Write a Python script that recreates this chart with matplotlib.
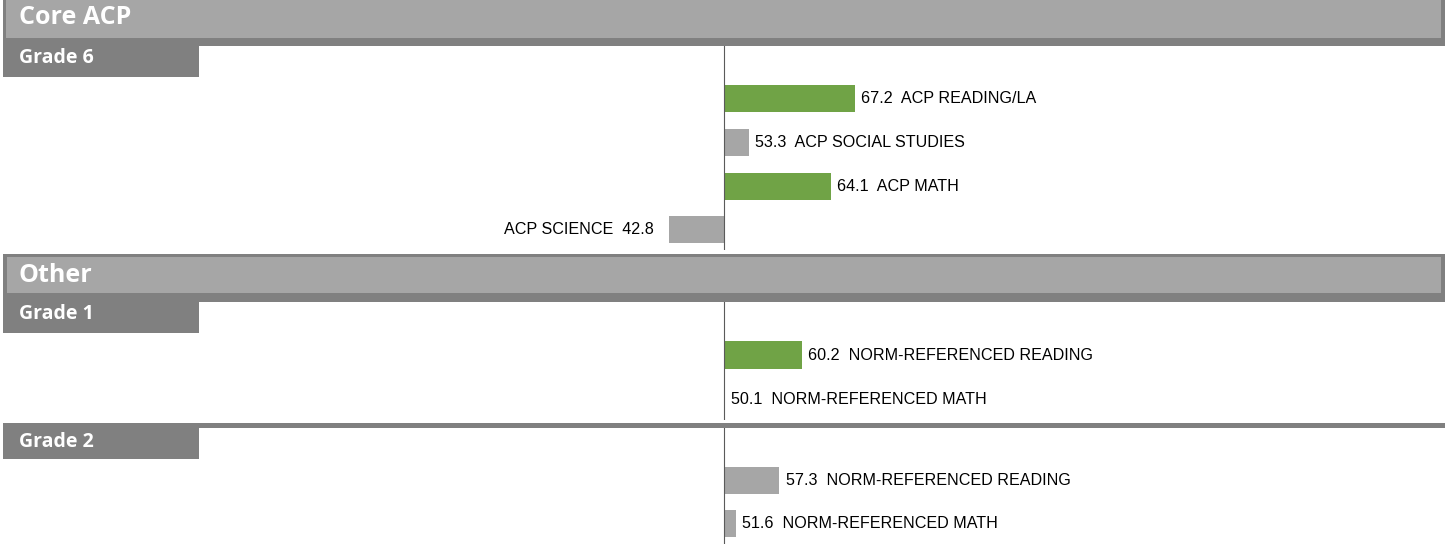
import matplotlib
matplotlib.use("Agg")
import matplotlib.pyplot as plt
from matplotlib.patches import Rectangle

W, H = 1445, 544
BASE = 50.0

sections = ["Core ACP", "Other"]
grade6_names = ["ACP READING/LA", "ACP SOCIAL STUDIES", "ACP MATH", "ACP SCIENCE"]
grade6_vals = [67.2, 53.3, 64.1, 42.8]
grade6_good = [True, False, True, False]

grade1_names = ["NORM-REFERENCED READING", "NORM-REFERENCED MATH"]
grade1_vals = [60.2, 50.1]
grade1_good = [True, False]

grade2_names = ["NORM-REFERENCED READING", "NORM-REFERENCED MATH"]
grade2_vals = [57.3, 51.6]
grade2_good = [False, False]

GREEN = "#70a346"
GRAY_BAR = "#a6a6a6"
LIGHT = "#a6a6a6"
DARK = "#808080"
AXLINE = "#5a5a5a"

fig = plt.figure(figsize=(W / 100, H / 100), dpi=100)


def rect(x0, y0, x1, y1, color, z=1):
    fig.add_artist(Rectangle((x0 / W, 1 - y1 / H), (x1 - x0) / W, (y1 - y0) / H,
                             transform=fig.transFigure, facecolor=color,
                             edgecolor="none", zorder=z))


def ftext(x, y, s, size):
    fig.text(x / W, 1 - y / H, s, color="white", fontsize=size, fontweight="bold",
             family=["Open Sans", "DejaVu Sans"], ha="left", va="center", zorder=30)


PX_PER_UNIT = 7.6
xmin = BASE - 724 / PX_PER_UNIT
xmax = BASE + (W - 724) / PX_PER_UNIT


def panel(top, bottom, names, vals, good):
    ax = fig.add_axes([0, 1 - bottom / H, 1, (bottom - top) / H])
    ax.set_xlim(xmin, xmax)
    n = len(vals)
    ax.set_ylim(n - 1 + 0.46, -1.2)
    ax.axis("off")
    ys = list(range(n))
    widths = [v - BASE for v in vals]
    colors = [GREEN if g else GRAY_BAR for g in good]
    ax.barh(ys, widths, left=BASE, height=0.62, color=colors, zorder=2)
    ax.axvline(BASE, color=AXLINE, lw=0.8, zorder=3)
    for y, v, nm in zip(ys, vals, names):
        if v >= BASE:
            ax.annotate(f"{v:.1f}  {nm}", (v, y), xytext=(4.5, 0), textcoords="offset points",
                        ha="left", va="center", fontsize=11.6, family="Liberation Sans",
                        color="black")
        else:
            ax.annotate(f"{nm}  {v:.1f}", (v, y), xytext=(-11, 0), textcoords="offset points",
                        ha="right", va="center", fontsize=11.6, family="Liberation Sans",
                        color="black")
    return ax


panel(46, 250, grade6_names, grade6_vals, grade6_good)
panel(302, 420, grade1_names, grade1_vals, grade1_good)
panel(428, 544, grade2_names, grade2_vals, grade2_good)

# Section header: Core ACP
rect(3, 0, W, 46, DARK, 10)
rect(6, 0, 1441, 38, LIGHT, 11)
rect(3, 38, 199, 77, DARK, 12)
ftext(19, 18, sections[0], 18)
ftext(19, 58, "Grade 6", 14)

# Section header: Other
rect(3, 254, W, 302, DARK, 10)
rect(7, 257, 1441, 293, LIGHT, 11)
rect(3, 293, 199, 333, DARK, 12)
ftext(19, 275, sections[1], 18)
ftext(19, 314, "Grade 1", 14)

# Grade 2 divider
rect(3, 423, W, 428, DARK, 10)
rect(3, 423, 199, 459, DARK, 12)
ftext(19, 442, "Grade 2", 14)

fig.savefig("out.png", dpi=100, facecolor="white")
